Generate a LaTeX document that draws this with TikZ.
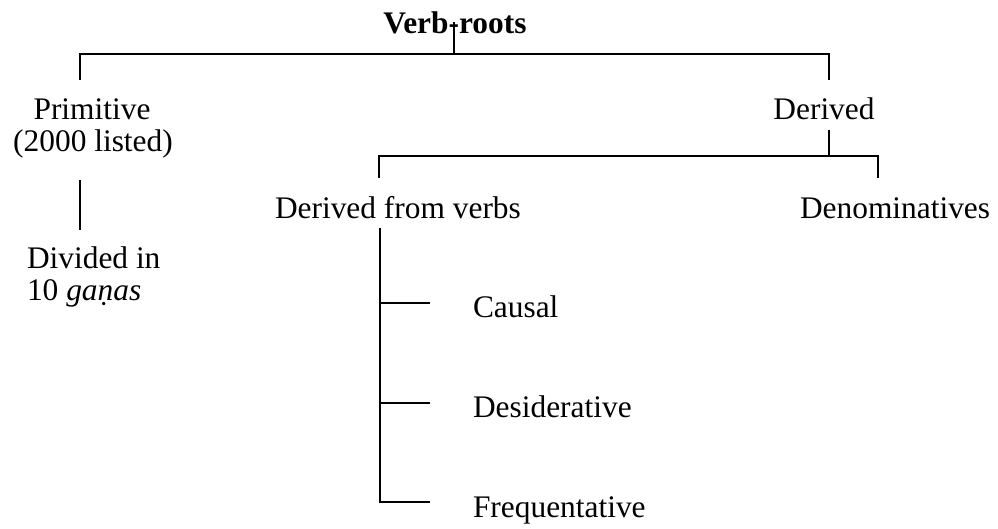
\documentclass[tikz,border=0pt]{standalone}
\usepackage{fontspec}
\setmainfont{Liberation Serif}
\begin{document}
\begin{tikzpicture}[x=0.5pt,y=-0.5pt,
  lbl/.style={inner sep=0pt,outer sep=0pt,font=\fontsize{15.7}{15}\selectfont},
  ln/.style={line width=1pt}]
\useasboundingbox (0,0) rectangle (998,529);
% texts
\node[lbl,anchor=base,font=\fontsize{15.7}{15}\selectfont\bfseries] (root) at (455,34) {Verb-roots};
\node[lbl,anchor=base] (prim) at (92,120) {Primitive};
\node[lbl,anchor=base] (primb) at (93,152) {(2000 listed)};
\node[lbl,anchor=base west] (div) at (27,269) {Divided in};
\node[lbl,anchor=base west] (divb) at (27,301) {10 \textit{gaṇas}};
\node[lbl,anchor=base] (der) at (824,120) {Derived};
\node[lbl,anchor=base west] (dfv) at (275,219) {Derived from verbs};
\node[lbl,anchor=base west] (den) at (800,219) {Denominatives};
\node[lbl,anchor=base west] (cau) at (473,318) {Causal};
\node[lbl,anchor=base west] (des) at (473,418) {Desiderative};
\node[lbl,anchor=base west] (fre) at (473,518) {Frequentative};
% junction coordinates
\coordinate (rt) at (454,22);
\coordinate (rj) at (454,54);
\coordinate (pl) at (80,54);
\coordinate (pe) at (80,80);
\coordinate (dl) at (829,54);
\coordinate (de) at (829,80);
\coordinate (ps) at (80,180);
\coordinate (pd) at (80,230);
\coordinate (ds) at (829,130);
\coordinate (dj) at (829,156);
\coordinate (vl) at (379,156);
\coordinate (ve) at (379,178);
\coordinate (nl) at (878,156);
\coordinate (ne) at (878,178);
\coordinate (fs) at (380,228);
\coordinate (c1) at (380,303);
\coordinate (c1e) at (430,303);
\coordinate (c2) at (380,403);
\coordinate (c2e) at (430,403);
\coordinate (c3) at (380,502);
\coordinate (c3e) at (430,502);
% connectors
\draw[ln] (rt) -- (rj);
\draw[ln] (pe) -- (pl) -- (dl) -- (de);
\draw[ln] (ps) -- (pd);
\draw[ln] (ds) -- (dj);
\draw[ln] (ve) -- (vl) -- (nl) -- (ne);
\draw[ln] (fs) -- (c3) -- (c3e);
\draw[ln] (c1) -- (c1e);
\draw[ln] (c2) -- (c2e);
\end{tikzpicture}
\end{document}
